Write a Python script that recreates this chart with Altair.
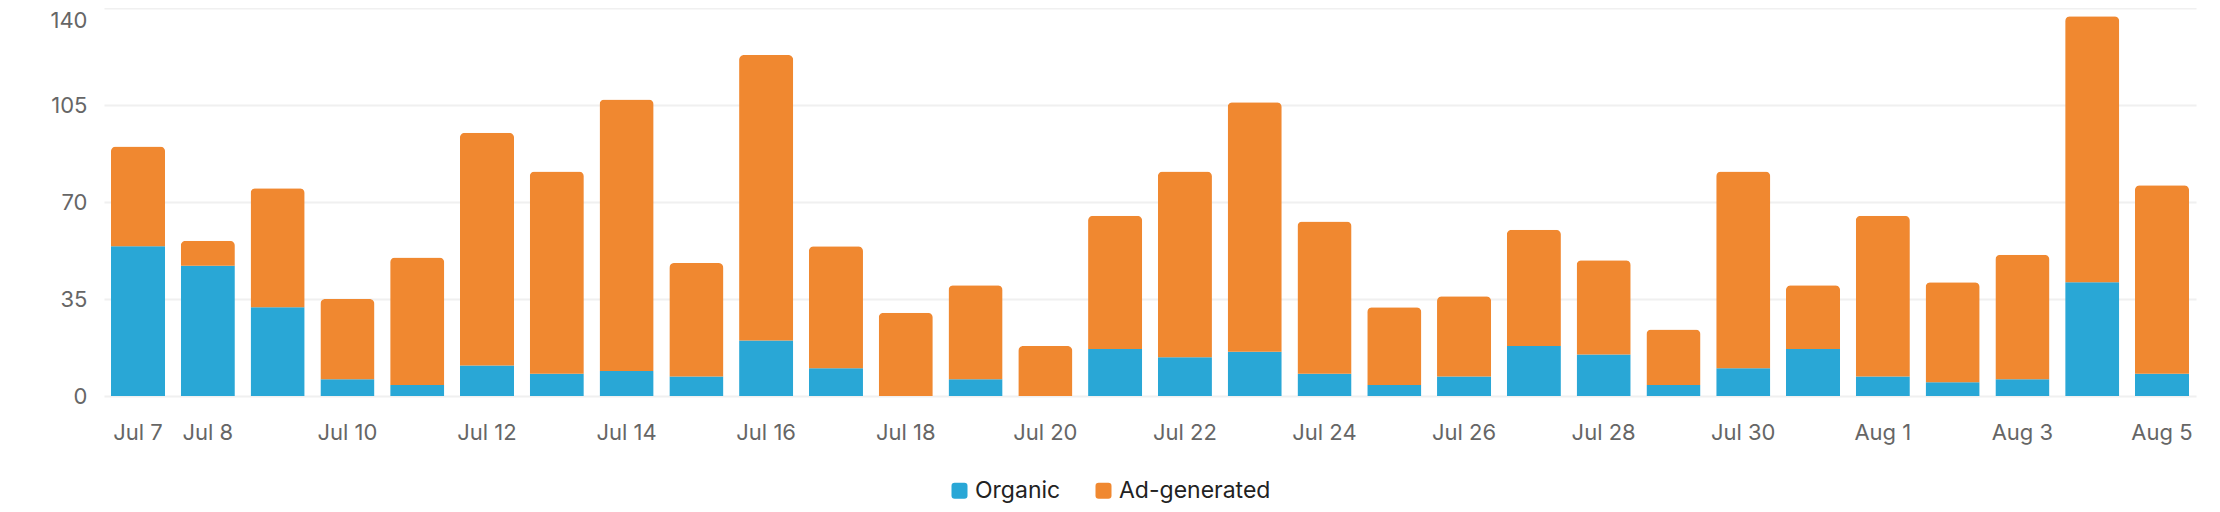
import altair as alt
import pandas as pd

dates = ["Jul 7", "Jul 8", "Jul 9", "Jul 10", "Jul 11", "Jul 12", "Jul 13", "Jul 14",
         "Jul 15", "Jul 16", "Jul 17", "Jul 18", "Jul 19", "Jul 20", "Jul 21", "Jul 22",
         "Jul 23", "Jul 24", "Jul 25", "Jul 26", "Jul 27", "Jul 28", "Jul 29", "Jul 30",
         "Jul 31", "Aug 1", "Aug 2", "Aug 3", "Aug 4", "Aug 5"]
organic = [54, 47, 32, 6, 4, 11, 8, 9, 7, 20, 10, 0, 6, 0, 17, 14, 16, 8, 4, 7,
           18, 15, 4, 10, 17, 7, 5, 6, 41, 8]
ad_generated = [36, 9, 43, 29, 46, 84, 73, 98, 41, 103, 44, 30, 34, 18, 48, 67, 90, 55,
                28, 29, 42, 34, 20, 71, 23, 58, 36, 45, 96, 68]
series = ["Organic", "Ad-generated"]
colors = ["#29A7D6", "#F08830"]
tick_labels = ["Jul 7", "Jul 8", "Jul 10", "Jul 12", "Jul 14", "Jul 16", "Jul 18",
               "Jul 20", "Jul 22", "Jul 24", "Jul 26", "Jul 28", "Jul 30", "Aug 1",
               "Aug 3", "Aug 5"]
y_ticks = [0, 35, 70, 105, 140]

rows = []
for d, o, a in zip(dates, organic, ad_generated):
    rows.append({"date": d, "type": "Organic", "value": o, "ord": 0})
    rows.append({"date": d, "type": "Ad-generated", "value": a, "ord": 1})
df = pd.DataFrame(rows)

FONT = "Inter"
rsquare = ("M-0.6,-1 H0.6 Q1,-1 1,-0.6 V0.6 Q1,1 0.6,1 H-0.6 "
           "Q-1,1 -1,0.6 V-0.6 Q-1,-1 -0.6,-1 Z")

chart = alt.Chart(df).mark_bar(
    cornerRadiusTopLeft=5, cornerRadiusTopRight=5
).encode(
    x=alt.X("date:N", sort=dates, title=None,
            scale=alt.Scale(paddingInner=0.225, paddingOuter=0.1),
            axis=alt.Axis(values=tick_labels, labelAngle=0, ticks=False, domain=False,
                          grid=False, labelFont=FONT, labelFontSize=22,
                          labelColor="#666666", labelPadding=26)),
    y=alt.Y("value:Q", stack="zero", title=None,
            scale=alt.Scale(domain=[0, 140], nice=False),
            axis=alt.Axis(values=y_ticks, ticks=False, domain=False, grid=True,
                          gridColor="#F0F0F0", gridWidth=2,
                          labelFont=FONT, labelFontSize=22, labelColor="#666666",
                          labelPadding=17,
                          labelBaseline=alt.expr("datum.value == 140 ? 'top' : 'middle'"),
                          labelOffset=alt.expr("datum.value == 140 ? 2 : 0"))),
    color=alt.Color("type:N", title=None,
                    scale=alt.Scale(domain=series, range=colors),
                    legend=alt.Legend(orient="none", legendX=844, legendY=471,
                                      direction="horizontal", symbolType=rsquare,
                                      symbolSize=256, symbolStrokeWidth=0,
                                      labelFont=FONT, labelFontSize=23,
                                      labelColor="#222222", labelOffset=4,
                                      columnPadding=31, padding=0)),
    order=alt.Order("ord:Q"),
).properties(
    width=2092, height=388,
    padding={"left": 96, "top": 0, "right": 10, "bottom": 108},
    autosize="none",
).configure_view(stroke=None)

chart.save("out.html", embed_options={"renderer": "svg", "actions": False})
